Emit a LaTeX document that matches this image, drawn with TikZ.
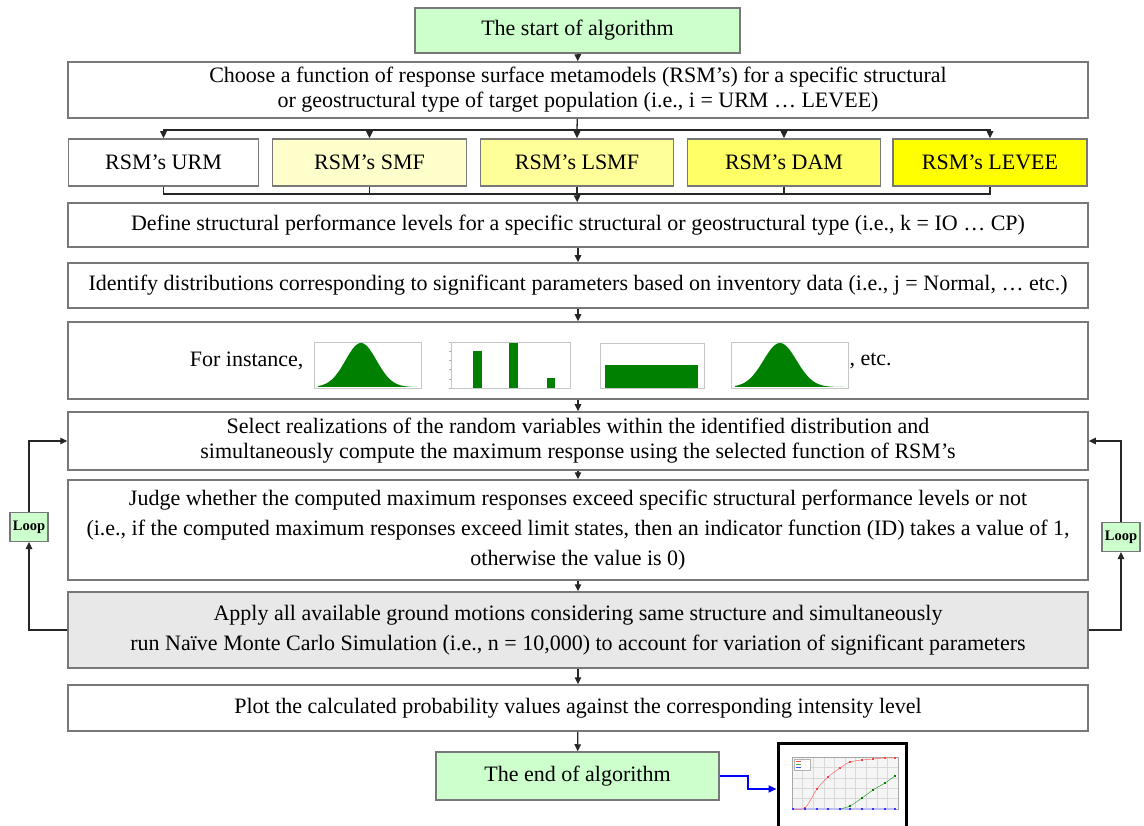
\documentclass[tikz,border=0pt]{standalone}
\usepackage{fontspec}
\setmainfont{Liberation Serif}
\usetikzlibrary{arrows.meta}
\definecolor{boxgray}{RGB}{120,120,120}
\definecolor{startgreen}{HTML}{CCFFCC}
\definecolor{yA}{HTML}{FFFFCC}
\definecolor{yB}{HTML}{FFFF99}
\definecolor{yC}{HTML}{FFFF66}
\definecolor{yD}{HTML}{FFFF00}
\definecolor{applygray}{HTML}{E8E8E8}
\definecolor{chartgreen}{HTML}{008000}
\begin{document}
\begin{tikzpicture}[x=1pt,y=-1pt,
  box/.style={draw=boxgray, line width=1.5pt, minimum width=1020pt, inner sep=0pt, align=center, font=\fontsize{22}{25}\selectfont},
  rsm/.style={draw=boxgray, line width=1.5pt, minimum height=47pt, inner sep=0pt, align=center, font=\fontsize{22}{25}\selectfont},
  termbox/.style={draw=boxgray, line width=1.5pt, fill=startgreen, inner sep=0pt, align=center},
  loopbox/.style={draw=boxgray, line width=1.2pt, fill=startgreen, minimum width=38pt, minimum height=29pt, inner sep=0pt, font=\fontsize{14.5}{16}\selectfont\bfseries},
  conn/.style={line width=1.3pt, draw=black!85},
  arr/.style={conn, -{Triangle[length=7pt,width=6.5pt]}},
  chartframe/.style={draw=gray!45, line width=0.6pt}
]
\useasboundingbox (0,0) rectangle (1144,826);

% main column
\node[termbox, minimum width=325pt, minimum height=45pt, font=\fontsize{22}{25}\selectfont] (start) at (577.5,30.5) {The start of algorithm};
\node[box, minimum height=56pt] (choose) at (578,90) {Choose a function of response surface metamodels (RSM’s) for a specific structural\\or geostructural type of target population (i.e., i = URM … LEVEE)};

\node[rsm, minimum width=190pt] (urm) at (163.5,162.5) {RSM’s URM};
\node[rsm, minimum width=194pt, fill=yA] (smf) at (369.5,162.5) {RSM’s SMF};
\node[rsm, minimum width=193pt, fill=yB] (lsmf) at (577,162.5) {RSM’s LSMF};
\node[rsm, minimum width=193pt, fill=yC] (dam) at (784,162.5) {RSM’s DAM};
\node[rsm, minimum width=194pt, fill=yD] (levee) at (990,162.5) {RSM’s LEVEE};

\node[box, minimum height=44pt] (define) at (578,225) {Define structural performance levels for a specific structural or geostructural type (i.e., k = IO … CP)};
\node[box, minimum height=45pt] (identify) at (578,285.5) {Identify distributions corresponding to significant parameters based on inventory data (i.e., j = Normal, … etc.)};
\node[box, minimum height=77pt] (inst) at (578,360.5) {};
\node[box, minimum height=58pt] (select) at (578,441) {Select realizations of the random variables within the identified distribution and\\simultaneously compute the maximum response using the selected function of RSM’s};
\node[box, minimum height=100pt, font=\fontsize{22}{30}\selectfont] (judge) at (578,530) {Judge whether the computed maximum responses exceed specific structural performance levels or not\\(i.e., if the computed maximum responses exceed limit states, then an indicator function (ID) takes a value of 1,\\otherwise the value is 0)};
\node[box, minimum height=76pt, fill=applygray, font=\fontsize{22}{30}\selectfont] (apply) at (578,630) {Apply all available ground motions considering same structure and simultaneously\\run Naïve Monte Carlo Simulation (i.e., n = 10,000) to account for variation of significant parameters};
\node[box, minimum height=46pt] (plot) at (578,708) {Plot the calculated probability values against the corresponding intensity level};
\node[termbox, minimum width=283pt, minimum height=48pt, font=\fontsize{22}{25}\selectfont] (end) at (577.5,776) {The end of algorithm};

% instance row
\node[font=\fontsize{22}{25}\selectfont, anchor=east] (forinst) at (307,361) {For instance,};
\node[font=\fontsize{22}{25}\selectfont, anchor=west] (etc) at (846,361) {, etc.};

% chart 1 : normal
\begin{scope}[shift={(314,342)}]
  \fill[chartgreen] (4,45) -- plot[domain=4:103,samples=80,smooth] (\x,{45-44*exp(-((\x-47)^2)/(2*15.5^2))}) -- (103,45) -- cycle;
  \draw[chartframe] (0,0) rectangle (107,46);
\end{scope}
% chart 2 : bars
\begin{scope}[shift={(451,342)}]
  \draw[chartframe] (0,0) rectangle (119,46);
  \foreach \t in {0,9.2,18.4,27.6,36.8,46} \draw[gray!60, line width=0.4pt] (0,\t) -- (-2,\t);
  \fill[chartgreen] (22,9) rectangle (31,46);
  \fill[chartgreen] (58,1) rectangle (67,46);
  \fill[chartgreen] (96,36) rectangle (104,46);
\end{scope}
% chart 3 : uniform
\begin{scope}[shift={(600,343)}]
  \draw[chartframe] (0,0) rectangle (104,45);
  \fill[chartgreen] (5,22) rectangle (98,45);
\end{scope}
% chart 4 : normal
\begin{scope}[shift={(731,342)}]
  \fill[chartgreen] (4,45) -- plot[domain=4:113,samples=80,smooth] (\x,{45-44*exp(-((\x-49)^2)/(2*16.5^2))}) -- (113,45) -- cycle;
  \draw[chartframe] (0,0) rectangle (117,46);
\end{scope}

% loop boxes
\node[loopbox] (loopL) at (29,527) {Loop};
\node[loopbox] (loopR) at (1121,537) {Loop};

% graph picture
\node[draw=black, line width=3pt, fill=white, minimum width=128pt, minimum height=92pt, inner sep=0pt] (graph) at (842,789) {};
\begin{scope}
  \fill[gray!8] (792,757) rectangle (898,809);
  \foreach \gx in {792,802.6,...,898} \draw[gray!30, line width=0.3pt] (\gx,757) -- (\gx,809);
  \foreach \gy in {757,767.4,...,809} \draw[gray!30, line width=0.3pt] (792,\gy) -- (898,\gy);
  \draw[gray!70, line width=0.4pt] (792,757) rectangle (898,809);
  \draw[gray!60, line width=0.3pt, fill=white] (794,759) rectangle (810,770);
  \draw[red!70, line width=0.4pt] (796,761.5) -- (801,761.5);
  \draw[chartgreen!70, line width=0.4pt] (796,764.5) -- (801,764.5);
  \draw[blue!70, line width=0.4pt] (796,767.5) -- (801,767.5);
  \draw[blue!25, line width=2pt] (793,809) -- (895,809);
  \draw[red!60, line width=0.5pt] plot[smooth] coordinates {(793,809) (805,808) (817,789) (828,777) (840,768) (850,762) (862,760) (873,759) (885,758) (895,758)};
  \foreach \px/\py in {793/809,805/808,817/789,828/777,840/768,850/762,862/760,873/759,885/758,895/758} \fill[red!75] (\px-1.3,\py-1.3) rectangle (\px+1.3,\py+1.3);
  \draw[chartgreen!80, line width=0.5pt] plot[smooth] coordinates {(840,809) (850,806) (862,798) (873,790) (885,783) (895,776)};
  \foreach \px/\py in {850/806,862/798,873/790,885/783,895/776} \fill[chartgreen] (\px-1.3,\py-1.3) rectangle (\px+1.3,\py+1.3);
  \foreach \px in {793,805,817,828,840,850,862,873,885,895} \fill[blue!80] (\px-1.3,807.7) rectangle (\px+1.3,810.3);
\end{scope}

% connectors
\coordinate (br) at (577,130);
\coordinate (mg) at (577,194);
\draw[arr] (start) -- (choose);
\draw[conn] (choose) -- (br);
\draw[arr] (br) -| (urm);
\draw[arr] (br) -| (smf);
\draw[arr] (br) -- (lsmf);
\draw[arr] (br) -| (dam);
\draw[arr] (br) -| (levee);
\draw[conn] (urm) |- (mg);
\draw[conn] (smf) |- (mg);
\draw[conn] (lsmf) -- (mg);
\draw[conn] (dam) |- (mg);
\draw[conn] (levee) |- (mg);
\draw[arr] (mg) -- (define);
\draw[arr] (define) -- (identify);
\draw[arr] (identify) -- (inst);
\draw[arr] (inst) -- (select);
\draw[arr] (select) -- (judge);
\draw[arr] (judge) -- (apply);
\draw[arr] (apply) -- (plot);
\draw[arr] (plot) -- (end);
\draw[arr] (apply.west) -| (loopL);
\draw[arr] (loopL) |- (select.west);
\draw[arr] (apply.east) -| (loopR);
\draw[arr] (loopR) |- (select.east);
\coordinate (bj) at (748,776);
\draw[blue, line width=2pt, -{Triangle[length=8pt,width=7pt]}] (end.east) -- (bj) |- (graph.west);
\end{tikzpicture}
\end{document}
